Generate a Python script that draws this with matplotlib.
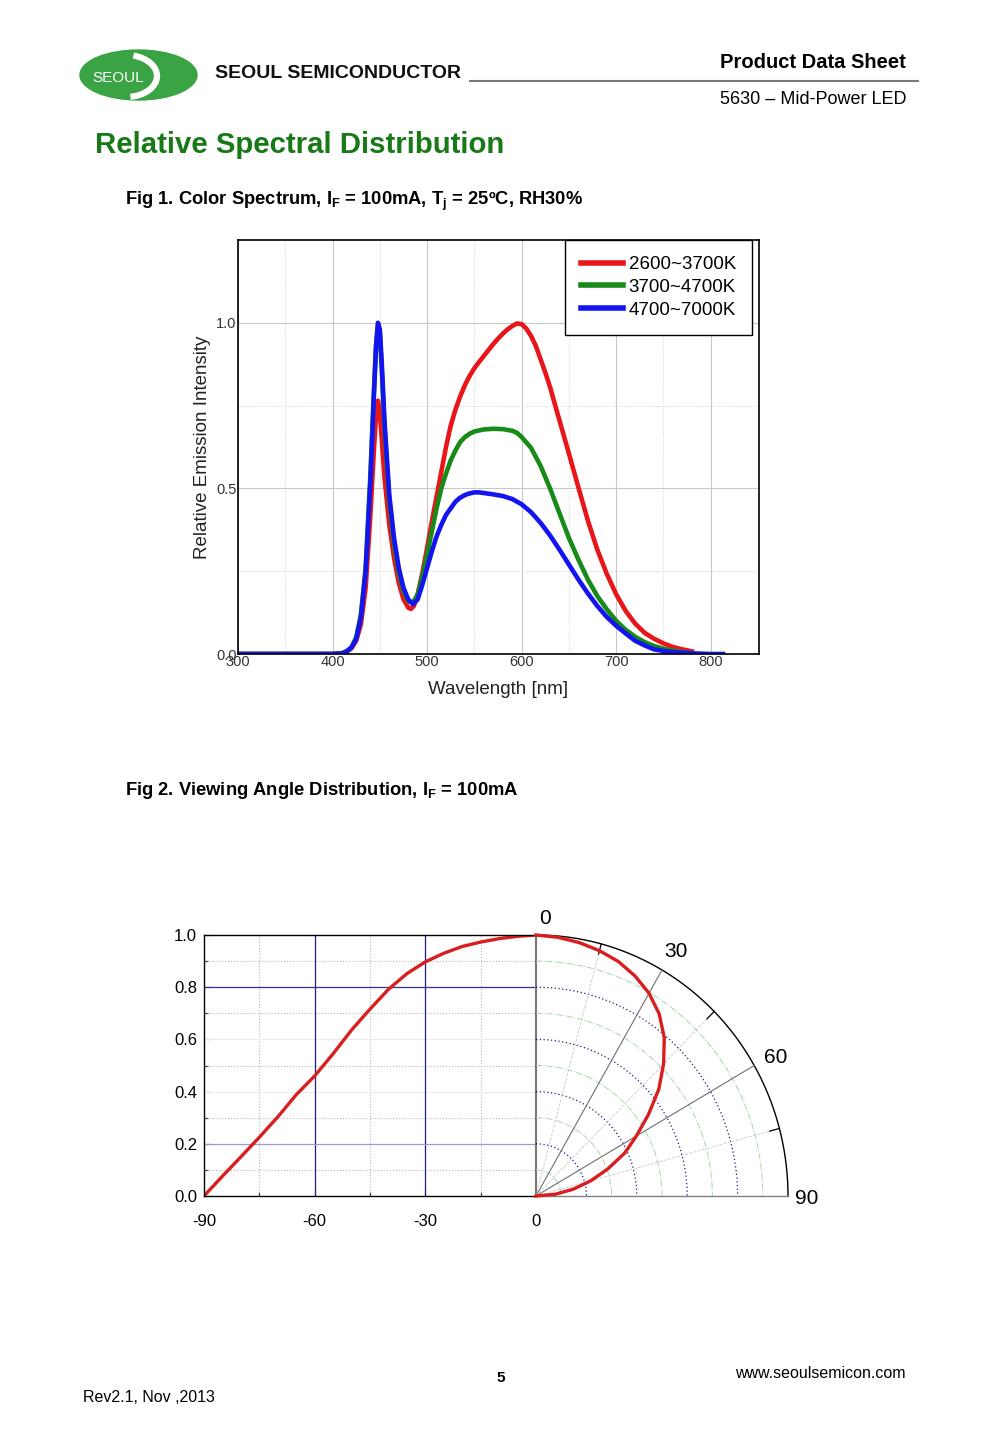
import numpy as np
import matplotlib
matplotlib.use('Agg')
import matplotlib.pyplot as plt
from matplotlib.patches import Ellipse, Arc
from matplotlib.lines import Line2D

plt.rcParams['font.family'] = ['Liberation Sans', 'DejaVu Sans']

# Fig 1 - relative spectral distribution
wl_red = [300, 400, 410, 415, 420, 425, 430, 435, 440, 444, 446, 448, 450, 452, 455,
          460, 465, 470, 475, 480, 483, 486, 490, 495, 500, 505, 510, 515, 520, 525,
          530, 535, 540, 545, 550, 555, 560, 565, 570, 575, 580, 585, 590, 595, 600,
          605, 610, 615, 620, 625, 630, 640, 650, 660, 670, 680, 690, 700, 710, 720,
          730, 740, 750, 760, 770, 780]
red = [0, 0, 0.002, 0.007, 0.017, 0.04, 0.09, 0.2, 0.42, 0.63, 0.72, 0.765, 0.73, 0.65, 0.53,
       0.39, 0.29, 0.215, 0.165, 0.14, 0.136, 0.145, 0.18, 0.245, 0.32, 0.40, 0.475, 0.55, 0.625, 0.69,
       0.738, 0.778, 0.812, 0.84, 0.863, 0.882, 0.90, 0.918, 0.936, 0.952, 0.967, 0.98, 0.99, 0.998, 0.996,
       0.982, 0.96, 0.93, 0.89, 0.85, 0.806, 0.705, 0.605, 0.503, 0.403, 0.315, 0.242, 0.18, 0.13, 0.092,
       0.064, 0.046, 0.032, 0.021, 0.014, 0.008]

wl_green = [300, 400, 410, 415, 420, 425, 430, 435, 440, 444, 446, 448, 450, 452, 455,
            460, 465, 470, 475, 480, 485, 490, 495, 500, 505, 510, 515, 520, 525, 530,
            535, 540, 545, 550, 560, 570, 580, 590, 595, 600, 610, 620, 630, 640, 650,
            660, 670, 680, 690, 700, 710, 720, 730, 740, 750, 760, 770, 780]
green = [0, 0, 0.002, 0.008, 0.02, 0.05, 0.12, 0.26, 0.54, 0.81, 0.93, 0.99, 0.97, 0.86, 0.68,
         0.46, 0.33, 0.245, 0.19, 0.16, 0.155, 0.18, 0.235, 0.30, 0.37, 0.44, 0.50, 0.545, 0.585, 0.615,
         0.64, 0.655, 0.665, 0.672, 0.678, 0.68, 0.679, 0.674, 0.668, 0.655, 0.622, 0.568, 0.50, 0.425, 0.35,
         0.285, 0.225, 0.175, 0.135, 0.10, 0.073, 0.052, 0.036, 0.024, 0.016, 0.01, 0.006, 0.003]

wl_blue = [300, 400, 410, 415, 420, 425, 430, 435, 440, 444, 446, 448, 450, 452, 455,
           460, 465, 470, 475, 480, 485, 490, 495, 500, 505, 510, 515, 520, 525, 530,
           535, 540, 545, 550, 555, 560, 570, 580, 590, 600, 610, 620, 630, 640, 650,
           660, 670, 680, 690, 700, 710, 720, 730, 740, 750, 760, 770, 780, 790, 800, 813]
blue = [0, 0, 0.002, 0.008, 0.02, 0.045, 0.11, 0.25, 0.52, 0.80, 0.93, 1.0, 0.98, 0.88, 0.70,
        0.48, 0.35, 0.26, 0.20, 0.165, 0.15, 0.165, 0.21, 0.26, 0.31, 0.355, 0.39, 0.42, 0.44, 0.46,
        0.472, 0.48, 0.485, 0.488, 0.488, 0.486, 0.482, 0.477, 0.468, 0.452, 0.428, 0.396, 0.358, 0.315, 0.27,
        0.225, 0.183, 0.145, 0.112, 0.085, 0.062, 0.04, 0.026, 0.014, 0.009, 0.006, 0.004, 0.002, 0.001, 0.0, 0.0]

series_labels = ['2600~3700K', '3700~4700K', '4700~7000K']

# Fig 2 - viewing angle distribution
angle = [-90, -85, -80, -75, -70, -65, -60, -55, -50, -45, -40, -35, -30, -25, -20, -15, -10, -5, 0]
intensity = [0.0, 0.076, 0.15, 0.225, 0.303, 0.388, 0.46, 0.545, 0.636, 0.716, 0.792, 0.852,
             0.897, 0.93, 0.956, 0.973, 0.986, 0.995, 1.0]

W, H = 1000, 1445
fig = plt.figure(figsize=(10, 14.45), dpi=100)


def fx(x):
    return x / W


def fy(y):
    return 1 - y / H


def axes_px(l, t, r, b):
    return fig.add_axes([l / W, 1 - b / H, (r - l) / W, (b - t) / H])


# ---- header ----
logo = axes_px(76, 46, 200, 104)
logo.set_xlim(76, 200)
logo.set_ylim(104, 46)
logo.axis('off')
logo.add_patch(Ellipse((138.5, 75), 117, 50, color='#3aa343'))
logo.add_patch(Arc((126, 76), 62, 42, theta1=-70, theta2=78, color='white', lw=4.5))
logo.text(118.5, 78, 'SEOUL', color='white', fontsize=11, ha='center', va='center')

fig.text(fx(215), fy(73), 'SEOUL SEMICONDUCTOR', fontsize=14, fontweight='bold', va='center',
         color='#111111')
fig.add_artist(Line2D([fx(470), fx(918)], [fy(81), fy(81)], color='#7a7a7a', lw=1.5))
fig.text(fx(906), fy(63), 'Product Data Sheet', fontsize=14.5, fontweight='bold', ha='right', va='center')
fig.text(fx(906), fy(100), '5630 \u2013 Mid-Power LED', fontsize=13, ha='right', va='center')
fig.text(fx(95), fy(145), 'Relative Spectral Distribution', fontsize=21.2, fontweight='bold',
         color='#177a17', va='center')
fig.text(fx(125), fy(201), r'Fig 1. Color Spectrum, I$_\mathregular{F}$ = 100mA, T$_\mathregular{j}$ = 25ºC, RH30%',
         fontsize=13.2, fontweight='bold', va='center')
fig.text(fx(125), fy(790), r'Fig 2. Viewing Angle Distribution, I$_\mathregular{F}$ = 100mA',
         fontsize=13.2, fontweight='bold', va='center')

# ---- Fig 1 ----
ax1 = axes_px(238, 240, 759, 654)
ax1.plot(wl_red, red, color='#e8161b', lw=3.3, label=series_labels[0])
ax1.plot(wl_green, green, color='#178a17', lw=3.3, label=series_labels[1])
ax1.plot(wl_blue, blue, color='#1414f0', lw=3.3, label=series_labels[2])
ax1.set_xlim(300, 851)
ax1.set_ylim(0, 1.25)
ax1.set_xticks([300, 400, 500, 600, 700, 800])
ax1.set_yticks([0, 0.5, 1.0])
ax1.set_yticklabels(['0.0', '0.5', '1.0'])
ax1.set_xticks([350, 450, 550, 650, 750, 850], minor=True)
ax1.set_yticks([0.25, 0.75], minor=True)
ax1.grid(which='major', color='#c8c8c8', lw=0.8)
ax1.grid(which='minor', color='#d0d0d0', lw=0.7, ls=':')
ax1.set_axisbelow(True)
ax1.tick_params(which='both', length=0, labelsize=10.5, pad=1, labelcolor='#333333')
for s in ax1.spines.values():
    s.set_linewidth(1.2)
ax1.set_xlabel('Wavelength [nm]', fontsize=13.5, labelpad=8, color='#222222')
ax1.set_ylabel('Relative Emission Intensity', fontsize=13.5, labelpad=4, color='#222222')
leg = ax1.legend(loc='upper right', bbox_to_anchor=(1 - 7 / 521, 1), borderaxespad=0,
                 fancybox=False, edgecolor='black', framealpha=1, fontsize=13.5,
                 handlelength=2.25, handletextpad=0.28, labelspacing=0.3, borderpad=0.85)
leg.get_frame().set_linewidth(1.0)
for h in leg.get_lines():
    h.set_linewidth(4)

# ---- Fig 2 left (cartesian) ----
ax2 = axes_px(204, 935, 536, 1196)
for x in [-75, -45, -15]:
    ax2.axvline(x, color='#b8b8b8', ls=':', lw=0.8)
for y in [0.1, 0.3, 0.5, 0.7, 0.9]:
    ax2.axhline(y, color='#b8b8b8', ls=':', lw=0.8)
for y in [0.4, 0.6]:
    ax2.axhline(y, color='#ececec', lw=0.8)
for x in [-60, -30]:
    ax2.axvline(x, color='#202080', lw=0.9)
ax2.axhline(0.8, color='#303090', lw=0.9)
ax2.axhline(0.2, color='#9a9ad4', lw=0.9)
ax2.plot(angle, intensity, color='#d81e1e', lw=2.4)
ax2.set_xlim(-90, 0)
ax2.set_ylim(0, 1)
ax2.set_xticks([-90, -60, -30, 0])
ax2.set_xticklabels(['-90', '-60', '-30', '0'])
ax2.set_xticks([-75, -45, -15], minor=True)
ax2.set_yticks([0, 0.2, 0.4, 0.6, 0.8, 1.0])
ax2.set_yticklabels(['0.0', '0.2', '0.4', '0.6', '0.8', '1.0'])
ax2.set_yticks([0.1, 0.3, 0.5, 0.7, 0.9], minor=True)
ax2.tick_params(which='major', direction='in', length=4, labelsize=12, width=0.8)
ax2.tick_params(axis='x', which='major', pad=13)
ax2.tick_params(axis='y', which='major', pad=5)
ax2.tick_params(which='minor', direction='in', length=3, width=0.8)
ax2.spines['right'].set_color('#777777')
ax2.spines['right'].set_linewidth(1.5)
for k in ['left', 'top', 'bottom']:
    ax2.spines[k].set_linewidth(1.0)

# ---- Fig 2 right (polar quarter) ----
ax3 = axes_px(536, 935, 788, 1196)
ax3.set_xlim(0, 1)
ax3.set_ylim(0, 1)
ax3.axis('off')
th = np.radians(np.linspace(0, 90, 200))
for r in [0.1, 0.3, 0.5, 0.7, 0.9]:
    ax3.plot(r * np.sin(th), r * np.cos(th), color='#a8d4a8', ls='-.', lw=0.7)
for r in [0.2, 0.4, 0.6, 0.8]:
    ax3.plot(r * np.sin(th), r * np.cos(th), color='#1c1c80', ls=(0, (1, 2)), lw=0.9)
ax3.plot(np.sin(th), np.cos(th), color='black', lw=1.0, clip_on=False)
for a in [15, 45, 75]:
    t = np.radians(a)
    ax3.plot([0, np.sin(t)], [0, np.cos(t)], color='#c8c8c8', ls='--', lw=0.6)
    ax3.plot([0.96 * np.sin(t), np.sin(t)], [0.96 * np.cos(t), np.cos(t)], color='black', lw=0.9)
for a in [30, 60]:
    t = np.radians(a)
    ax3.plot([0, np.sin(t)], [0, np.cos(t)], color='#707070', lw=0.8)
ax3.plot([0, 1], [0, 0], color='#808080', lw=1.0, clip_on=False)
pt = np.radians(-np.array(angle))
iv = np.array(intensity)
ax3.plot(iv * np.sin(pt), iv * np.cos(pt), color='#d81e1e', lw=2.4, clip_on=False)
ax3.text(0.035, 1.062, '0', fontsize=15, ha='center', va='center')
ax3.text(0.556, 0.935, '30', fontsize=15, ha='center', va='center')
ax3.text(0.952, 0.529, '60', fontsize=15, ha='center', va='center')
ax3.text(1.075, -0.008, '90', fontsize=15, ha='center', va='center')

# ---- footer ----
fig.text(fx(501), fy(1378), '5', fontsize=11, fontweight='bold', ha='center', va='center')
fig.text(fx(906), fy(1374), 'www.seoulsemicon.com', fontsize=11.5, ha='right', va='center')
fig.text(fx(83), fy(1398), 'Rev2.1, Nov ,2013', fontsize=11.5, va='center')

fig.savefig('out.png', dpi=100)
